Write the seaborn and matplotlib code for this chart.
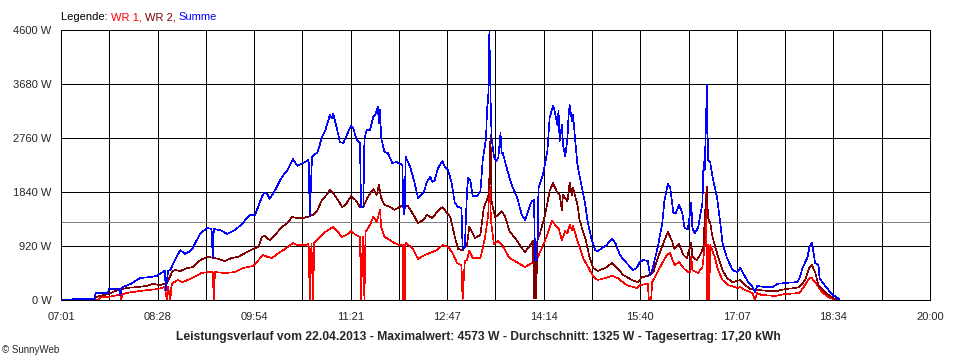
import numpy as np
import pandas as pd
import matplotlib
matplotlib.use("Agg")
import matplotlib.pyplot as plt
import seaborn as sns

# time in minutes since midnight, power in W
t_summe = [421, 451, 452, 463, 464, 473, 474, 476, 483, 492,
           501, 507, 512, 514, 515, 517, 519, 523, 528, 532,
           537, 539, 546, 552, 556, 557, 558, 564, 570, 577,
           584, 590, 595, 601, 603, 606, 608, 613, 619, 624,
           629, 633, 638, 643, 644, 646, 651, 655, 658, 662,
           664, 665, 668, 671, 674, 678, 681, 683, 686, 689,
           690, 692, 693, 695, 698, 701, 703, 705, 706, 707,
           708, 711, 714, 718, 722, 727, 728, 729, 730, 734,
           738, 741, 746, 749, 752, 754, 756, 759, 763, 765,
           768, 771, 774, 777, 780, 781, 783, 785, 786, 788,
           790, 794, 797, 799, 802, 803, 804, 805, 806, 807,
           809, 811, 813, 815, 816, 817, 821, 825, 830, 834,
           837, 840, 843, 845, 846, 848, 849, 853, 857, 859,
           862, 863, 866, 867, 868, 870, 871, 873, 875, 876,
           877, 879, 880, 882, 884, 888, 891, 893, 897, 900,
           902, 906, 910, 915, 918, 922, 928, 934, 937, 940,
           943, 947, 949, 951, 956, 960, 962, 965, 967, 970,
           972, 975, 978, 980, 983, 986, 987, 989, 992, 996,
           997, 998, 999, 1000, 1001, 1003, 1005, 1009, 1012, 1014,
           1018, 1023, 1027, 1030, 1032, 1037, 1041, 1043, 1045, 1052,
           1059, 1063, 1070, 1081, 1083, 1086, 1090, 1092, 1094, 1095,
           1097, 1100, 1101, 1104, 1109, 1113, 1117, 1119]
w_summe = [10, 15, 120, 120, 190, 190, 85, 220, 270, 375,
           390, 410, 475, 495, 170, 495, 510, 680, 850, 785,
           835, 885, 1140, 1225, 1210, 730, 1210, 1190, 1125, 1190,
           1310, 1450, 1450, 1755, 1825, 1805, 1720, 1875, 2095, 2215,
           2400, 2285, 2335, 2385, 1430, 2435, 2520, 2775, 2895, 3150,
           3100, 3170, 2950, 2690, 2675, 2845, 2965, 2930, 2725, 2675,
           1585, 1585, 2745, 2895, 2895, 3120, 3170, 3290, 3015, 3240,
           2760, 2520, 2505, 2335, 2350, 2300, 1465, 1465, 2435, 2265,
           1995, 1740, 1825, 2010, 2095, 2010, 2045, 2250, 2370, 2265,
           2215, 2010, 1655, 1585, 1570, 870, 905, 1875, 2080, 2030,
           1770, 1770, 1855, 2370, 2760, 3270, 3440, 4573, 3495, 2760,
           2455, 2370, 2420, 2845, 2505, 2505, 2215, 1960, 1740, 1450,
           1365, 1535, 1685, 1705, 680, 680, 1910, 2130, 2540, 3100,
           3305, 3270, 2980, 3220, 2710, 2980, 2640, 2455, 2760, 3135,
           3320, 3050, 3150, 2710, 2300, 1910, 1620, 1345, 1005, 850,
           835, 885, 935, 1040, 970, 765, 630, 510, 545, 650,
           680, 665, 425, 510, 905, 1310, 1705, 1975, 1925, 1480,
           1480, 1620, 1480, 1225, 1210, 1655, 1225, 1140, 1225, 1655,
           2350, 2215, 2895, 3665, 2385, 2350, 2095, 1755, 1310, 970,
           715, 510, 475, 545, 475, 305, 220, 135, 240, 220,
           220, 275, 290, 305, 375, 560, 715, 905, 970, 885,
           630, 595, 375, 290, 170, 85, 35, 10]

t_wr2 = [421, 451, 452, 463, 472, 480, 489, 498, 503, 510,
         516, 521, 523, 528, 534, 539, 544, 546, 552, 559,
         568, 574, 580, 586, 593, 598, 601, 604, 608, 613,
         619, 624, 628, 633, 637, 642, 647, 651, 655, 659,
         662, 665, 668, 673, 676, 681, 685, 689, 692, 696,
         701, 704, 706, 708, 711, 716, 720, 723, 728, 732,
         737, 741, 746, 749, 754, 758, 763, 767, 770, 774,
         777, 781, 785, 787, 789, 792, 797, 800, 804, 805,
         806, 807, 810, 813, 816, 819, 823, 830, 834, 837,
         841, 844, 845, 846, 847, 848, 850, 855, 859, 862,
         866, 868, 870, 871, 875, 877, 879, 880, 884, 886,
         891, 895, 898, 902, 909, 915, 919, 925, 933, 938,
         942, 947, 952, 956, 962, 965, 969, 971, 975, 979,
         982, 986, 987, 991, 994, 997, 998, 1000, 1001, 1003,
         1005, 1010, 1014, 1018, 1023, 1030, 1032, 1039, 1046, 1055,
         1063, 1070, 1079, 1083, 1088, 1092, 1094, 1097, 1100, 1104,
         1109, 1115, 1118]
w_wr2 = [0, 0, 50, 100, 170, 205, 220, 240, 275, 255,
         290, 495, 510, 495, 545, 560, 650, 680, 735, 715,
         665, 715, 735, 800, 870, 905, 1075, 1090, 1020, 1110,
         1245, 1310, 1415, 1395, 1395, 1415, 1450, 1535, 1705, 1790,
         1875, 1825, 1740, 1585, 1620, 1770, 1705, 1585, 1585, 1755,
         1890, 1790, 1960, 1740, 1620, 1585, 1535, 1570, 1620, 1600,
         1450, 1310, 1365, 1450, 1395, 1500, 1585, 1480, 1415, 1075,
         870, 850, 935, 1245, 1175, 1055, 1110, 1570, 1770, 2080,
         2810, 1685, 1415, 1450, 1515, 1430, 1175, 1005, 885, 820,
         920, 1005, 35, 1005, 35, 1020, 1110, 1450, 1855, 1995,
         1825, 1790, 1535, 1790, 1685, 1995, 1790, 1910, 1620, 1345,
         1055, 715, 545, 495, 545, 630, 560, 425, 340, 305,
         390, 410, 475, 715, 1020, 1160, 990, 870, 955, 765,
         715, 970, 735, 680, 765, 905, 1395, 1925, 1395, 1310,
         1075, 735, 510, 375, 305, 340, 290, 185, 170, 155,
         155, 185, 205, 220, 340, 560, 595, 475, 255, 170,
         85, 15, 0]

t_wr1 = [421, 455, 456, 463, 472, 474, 475, 476, 480, 492,
         507, 514, 516, 517, 519, 520, 521, 526, 530, 537,
         544, 547, 553, 557, 558, 559, 568, 577, 584, 593,
         598, 602, 606, 610, 616, 622, 629, 633, 640, 643,
         644, 645.5, 647, 648, 649, 653, 658, 662, 665, 669,
         673, 677, 681, 685, 689, 690, 691.5, 693, 694, 698,
         701, 704, 707, 708, 711, 716, 720, 725, 727, 727.5,
         728.5, 729.5, 730, 736, 741, 747, 754, 758, 763, 768,
         772, 776, 780, 781, 783, 785, 787, 790, 797, 801,
         804, 805, 806.5, 809, 813, 817, 823, 831, 837, 843,
         848, 852, 857, 861, 864, 867, 870, 873, 875, 877,
         879, 880, 884, 889, 893, 898, 902, 909, 915, 920,
         928, 937, 940, 947, 948, 950, 951, 958, 964, 967,
         971, 975, 979, 983, 985, 986, 987, 992, 996, 998,
         999, 1000, 1001, 1002, 1003, 1007, 1010, 1014, 1019, 1027,
         1030, 1034, 1041, 1043, 1045, 1049, 1061, 1070, 1083, 1088,
         1092, 1094, 1099, 1103, 1109, 1115]
w_wr1 = [0, 0, 50, 50, 85, 85, 0, 100, 120, 155,
         185, 220, 0, 220, 0, 240, 290, 340, 305, 360,
         425, 460, 475, 475, 0, 475, 460, 475, 545, 580,
         680, 765, 735, 715, 800, 870, 970, 935, 935, 955,
         0, 955, 0, 970, 990, 1075, 1160, 1210, 1245, 1160,
         1075, 1110, 1175, 1110, 1075, 0, 1075, 0, 1160, 1280,
         1415, 1330, 1535, 1245, 1075, 1020, 970, 935, 935, 0,
         935, 0, 970, 885, 700, 765, 820, 850, 935, 905,
         800, 630, 595, 0, 665, 680, 835, 715, 715, 1055,
         1450, 2080, 1345, 955, 1005, 920, 715, 630, 560, 630,
         715, 885, 1110, 1345, 1280, 1225, 1020, 1175, 1140, 1280,
         1190, 1260, 1005, 715, 580, 410, 340, 375, 410, 375,
         255, 205, 255, 275, 0, 0, 305, 560, 765, 800,
         595, 645, 545, 475, 475, 735, 510, 460, 560, 905,
         1825, 0, 935, 0, 935, 735, 510, 340, 255, 205,
         220, 170, 120, 0, 120, 85, 70, 100, 120, 255,
         375, 375, 255, 135, 50, 0]

x_labels = ["07:01", "08:28", "09:54", "11:21", "12:47", "14:14",
            "15:40", "17:07", "18:34", "20:00"]
y_ticks = [0, 920, 1840, 2760, 3680, 4600]
t_start, t_end = 421, 1200
avg_w = 1325

series = [("WR 1", t_wr1, w_wr1, "#ff0000"),
          ("WR 2", t_wr2, w_wr2, "#800000"),
          ("Summe", t_summe, w_summe, "#0000ff")]

sns.set_style("white")
plt.rcParams["font.family"] = ["Liberation Sans", "DejaVu Sans"]

fig = plt.figure(figsize=(9.6, 3.6), dpi=100)
ax = fig.add_axes([61 / 960, 60 / 360, 869 / 960, 270 / 360])

LW = 0.6

for name, t, w, col in series:
    df = pd.DataFrame({"t": t, "w": w})
    sns.lineplot(data=df, x="t", y="w", ax=ax, color=col, linewidth=0.45,
                 estimator=None, sort=False, antialiased=False, zorder=3)

ax.axhline(avg_w, color="#808080", lw=LW, zorder=2, antialiased=False)

grid_x = np.linspace(t_start, t_end, 2 * len(x_labels) - 1)
ax.set_xticks(grid_x)
lbls = []
for i in range(len(grid_x)):
    lbls.append(x_labels[i // 2] if i % 2 == 0 else "")
ax.set_xticklabels(lbls)
ax.set_yticks(y_ticks)
ax.set_yticklabels([f"{v} W" for v in y_ticks])
ax.set_xlim(t_start, t_end)
ax.set_ylim(0, 4600)
ax.set_xlabel("")
ax.set_ylabel("")

ax.grid(True, color="black", lw=LW)
for gl in ax.get_xgridlines() + ax.get_ygridlines():
    gl.set_antialiased(False)
ax.set_axisbelow(True)
for sp in ax.spines.values():
    sp.set_color("black")
    sp.set_linewidth(LW)
    sp.set_antialiased(False)
ax.tick_params(axis="both", direction="out", length=5, width=LW,
               color="black", labelsize=8, pad=2)
ax.tick_params(axis="x", pad=4)

fig.text(478 / 960, 1 - 337 / 360,
         "Leistungsverlauf vom 22.04.2013 - Maximalwert: 4573 W - "
         "Durchschnitt: 1325 W - Tagesertrag: 17,20 kWh",
         ha="center", va="center", fontsize=8.7, fontweight="bold")
fig.text(2 / 960, 1 - 350 / 360, "© SunnyWeb", ha="left", va="center",
         fontsize=7)

leg = fig.text(61 / 960, 1 - 17 / 360, "Legende: ", ha="left", va="center",
               fontsize=8, color="black")
prev = leg
for txt, col in [("WR 1, ", "#ff0000"), ("WR 2, ", "#800000"),
                 ("Summe", "#0000ff")]:
    prev = ax.annotate(txt, xy=(1, 0), xycoords=prev, ha="left", va="bottom",
                       fontsize=8, color=col, annotation_clip=False)

fig.savefig("out.png", dpi=100, facecolor="white")
